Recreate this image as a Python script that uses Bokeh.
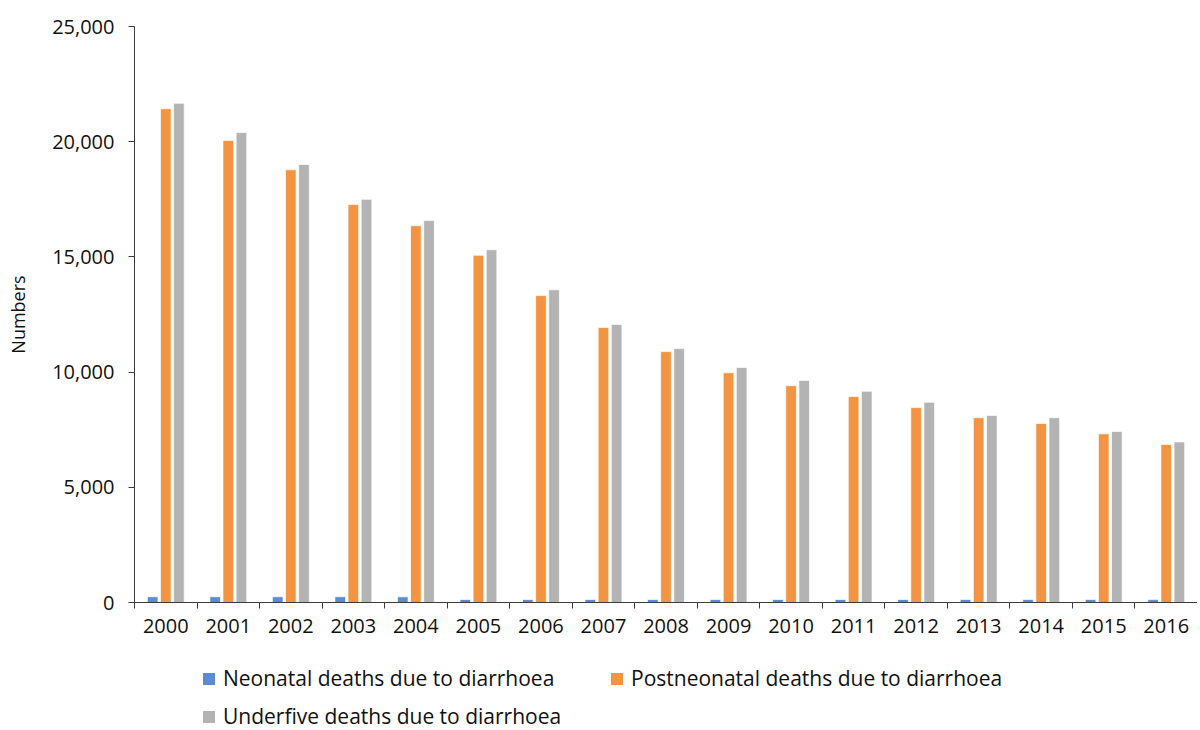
from bokeh.plotting import figure
from bokeh.layouts import column
from bokeh.models import (Range1d, FixedTicker, NumeralTickFormatter, Legend,
                          LegendItem, ColumnDataSource)
from bokeh.embed import file_html
from bokeh.resources import INLINE

years = ["2000", "2001", "2002", "2003", "2004", "2005", "2006", "2007", "2008",
         "2009", "2010", "2011", "2012", "2013", "2014", "2015", "2016"]
neonatal = [250, 250, 250, 250, 245, 130, 130, 130, 130, 130, 130, 130, 130, 130, 130, 130, 125]
postneonatal = [21430, 20050, 18780, 17270, 16350, 15070, 13320, 11940, 10890,
                9970, 9410, 8940, 8460, 8020, 7770, 7320, 6860]
underfive = [21670, 20400, 19010, 17500, 16580, 15310, 13570, 12070, 11020,
             10200, 9640, 9170, 8690, 8120, 8020, 7420, 6970]

series_names = ["Neonatal deaths due to diarrhoea",
                "Postneonatal deaths due to diarrhoea",
                "Underfive deaths due to diarrhoea"]
colors = ["#5B8BD0", "#F29441", "#B3B3B3"]
offsets = [-0.21, 0.0, 0.21]
bar_w = 0.17
FONT = "Open Sans"

n = len(years)
centers = [i + 0.5 for i in range(n)]
bounds = [i for i in range(n + 1)]

p = figure(width=1197, height=650, output_backend="svg", toolbar_location=None,
           x_range=Range1d(0, n), y_range=Range1d(0, 25000),
           min_border_left=134, min_border_right=0, min_border_top=26,
           min_border_bottom=48, frame_width=1063, frame_height=576)
p.outline_line_color = None
p.xgrid.visible = False
p.ygrid.visible = False

sources = []
for vals, col, off in zip([neonatal, postneonatal, underfive], colors, offsets):
    src = ColumnDataSource(dict(x=[c + off for c in centers], top=vals))
    sources.append(src)
    p.vbar(x="x", top="top", width=bar_w, bottom=0, source=src,
           fill_color=col, line_color="white", line_alpha=0.7, line_width=1)

# x axis: labels at centres, ticks at category boundaries
p.xaxis.ticker = FixedTicker(ticks=centers, minor_ticks=bounds)
p.xaxis.major_label_overrides = {c: y for c, y in zip(centers, years)}
p.xaxis.major_tick_line_color = None
p.xaxis.minor_tick_out = 6
p.xaxis.minor_tick_in = 0
p.xaxis.minor_tick_line_color = "#3c3c3c"
p.xaxis.axis_line_color = "#3c3c3c"
p.xaxis.major_label_standoff = 10
p.xaxis.major_label_text_font = FONT
p.xaxis.major_label_text_font_size = "20px"
p.xaxis.major_label_text_color = "#111111"

p.yaxis.ticker = FixedTicker(ticks=[0, 5000, 10000, 15000, 20000, 25000])
p.yaxis.formatter = NumeralTickFormatter(format="0,0")
p.yaxis.major_tick_out = 6
p.yaxis.major_tick_in = 0
p.yaxis.minor_tick_line_color = None
p.yaxis.axis_line_color = "#3c3c3c"
p.yaxis.major_tick_line_color = "#3c3c3c"
p.yaxis.major_label_standoff = 14
p.yaxis.major_label_text_font = FONT
p.yaxis.major_label_text_font_size = "20px"
p.yaxis.major_label_text_color = "#111111"
p.yaxis.axis_label = "Numbers"
p.yaxis.axis_label_text_font = FONT
p.yaxis.axis_label_text_font_size = "18px"
p.yaxis.axis_label_text_font_style = "normal"
p.yaxis.axis_label_text_color = "#111111"
p.yaxis.axis_label_standoff = 19

# legend panel below the chart: its renderers share the chart's sources but
# have zero width, so only the legend swatches show
lg = figure(width=1197, height=80, output_backend="svg", toolbar_location=None,
            x_range=Range1d(0, n), y_range=Range1d(0, 25000),
            min_border_left=0, min_border_right=0, min_border_top=0,
            min_border_bottom=0)
lg.outline_line_color = None
lg.axis.visible = False
lg.grid.visible = False

legend_locs = [(67, 38), (475, 38), (67, 0)]
for nm, col, src, loc in zip(series_names, colors, sources, legend_locs):
    r = lg.vbar(x="x", top="top", width=0, bottom=0, source=src,
                fill_color=col, line_color=None)
    leg = Legend(items=[LegendItem(label=nm, renderers=[r])], location=loc,
                 orientation="horizontal", glyph_width=15, glyph_height=15,
                 label_standoff=7, label_text_font=FONT, label_text_font_size="21px",
                 label_text_color="#111111", padding=0, margin=0,
                 border_line_color=None, background_fill_alpha=0)
    lg.add_layout(leg, "center")

open("out.html", "w").write(file_html(column(p, lg), INLINE))
